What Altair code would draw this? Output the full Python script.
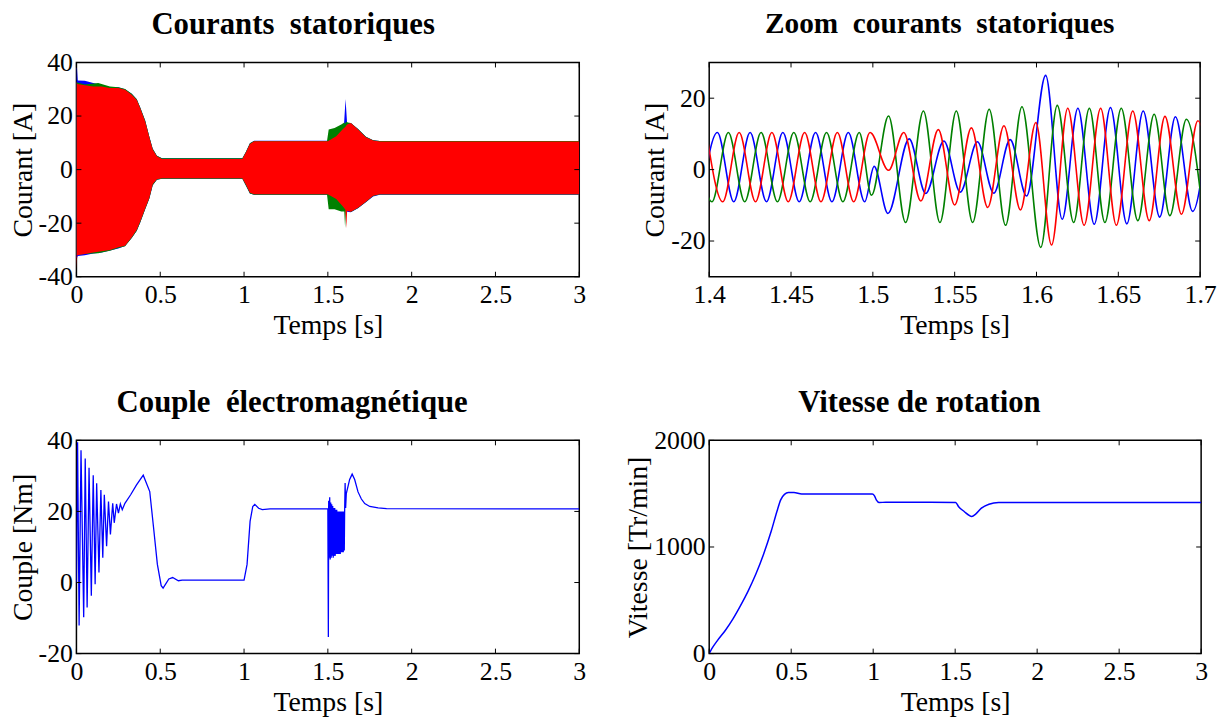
import altair as alt
import pandas as pd

FONT = "Liberation Serif"
BLUE, GREEN, RED = "#0000ff", "#008000", "#ff0000"
SP2 = "\u00a0\u00a0"

# ---------- Panel 1 : stator currents, envelopes of the dense oscillation ----------
red_t = [0, 0.005, 0.05, 0.1, 0.15, 0.2, 0.25, 0.29, 0.33, 0.36, 0.38, 0.41, 0.435, 0.455, 0.48, 0.51,
         0.99, 1.01, 1.035, 1.06, 1.5, 1.55, 1.59, 1.605, 1.61, 1.615, 1.637, 1.68, 1.727, 1.77, 1.81, 3.0]
red_hi = [33, 32, 31.5, 31, 31, 30.5, 30.5, 29.8, 28, 26, 23, 18, 12, 7.5, 5, 4,
          4, 6.3, 9.6, 10.6, 10.6, 12.5, 15.2, 16, 16.5, 16.8, 17.4, 15, 12.1, 10.9, 10.5, 10.5]
red_lo = [-37, -32, -31.5, -31, -30.5, -30, -29, -28.4, -25.3, -22.5, -19.5, -14.5, -10.5, -5.5, -3.6, -3.2,
          -3.2, -5.5, -8.6, -9.2, -9.2, -11, -13.8, -15, -21.9, -15.5, -15.7, -14.2, -12, -9.8, -9.2, -9.2]

green_t = [0, 0.005, 0.05, 0.13, 0.2, 0.25, 0.29, 0.33, 0.36, 0.38, 0.41, 0.435, 0.455, 0.48, 0.51,
           0.99, 1.01, 1.035, 1.06, 1.495, 1.505, 1.54, 1.58, 1.598, 1.603, 1.608, 1.62, 1.637, 1.68,
           1.727, 1.77, 1.81, 3.0]
green_hi = [32.5, 32.5, 31.8, 32.3, 31, 30.8, 30.1, 28.3, 26.3, 23.3, 18.3, 12.3, 7.8, 5.2, 4.2,
            4.2, 6.5, 9.8, 10.7, 10.7, 15, 15.5, 16.8, 17.6, 17, 18, 17.6, 17.4, 15.2,
            12.3, 11, 10.7, 10.7]
green_lo = [-31.8, -31.8, -31.5, -31.2, -30.3, -29.3, -28.6, -25.5, -22.8, -19.8, -14.8, -10.8, -5.8, -3.8, -3.4,
            -3.4, -5.8, -8.9, -9.4, -9.4, -14.8, -14.8, -15.6, -15.6, -21.8, -15, -14.8, -15.8, -14.3,
            -12.1, -9.9, -9.3, -9.3]

blue_t = [0, 0.003, 0.008, 0.05, 0.1, 0.15, 0.2, 0.25, 0.29, 0.33, 0.36, 0.38, 0.41, 0.435, 0.455, 0.48,
          0.51, 0.99, 1.01, 1.035, 1.06, 1.5, 1.55, 1.595, 1.6056, 1.615, 1.637, 1.68, 1.727, 1.77, 1.81, 3.0]
blue_hi = [38, 38, 33.3, 33.2, 32.3, 31.5, 30.8, 30.8, 30, 28.3, 26.3, 23.3, 18.3, 12.3, 7.8, 5.2,
           4.2, 4.2, 6.5, 9.8, 10.8, 10.8, 12.7, 15.4, 26.4, 17, 17.4, 15.2, 12.3, 11, 10.7, 10.7]
blue_lo = [-33, -33, -32.3, -32, -31.3, -31, -30.2, -29.5, -28.5, -25.5, -22.8, -19.8, -14.8, -10.8, -5.8, -3.8,
           -3.4, -3.4, -5.8, -8.9, -9.4, -9.4, -11.2, -14, -14, -15.7, -15.9, -14.4, -12.2, -10, -9.4, -9.4]

# ---------- Panel 2 : zoom of the currents (peaks and troughs) ----------
zb_t = [1.395, 1.405, 1.415, 1.425, 1.435, 1.445, 1.455, 1.465, 1.475, 1.485, 1.495, 1.5008, 1.5092,
        1.5222, 1.5323, 1.5434, 1.5534, 1.5639, 1.5739, 1.5839, 1.594, 1.6056, 1.6157, 1.6253, 1.6353,
        1.6452, 1.6552, 1.6652, 1.6753, 1.6849, 1.6954, 1.705]
zb_v = [-9, 10.4, -9, 10.4, -9, 10.4, -9, 10.4, -9, 10.4, -9, 0.9, -12.3,
        8.6, -6.7, 8.0, -6.3, 7.8, -6.6, 8.4, -7.4, 26.4, -13.9, 17.2, -15.3,
        17.4, -15.2, 16.4, -13.3, 14.8, -11.7, 13.5]

zg_t = [1.3917, 1.4017, 1.4117, 1.4217, 1.4317, 1.4417, 1.4517, 1.4617, 1.4717, 1.4817, 1.4917, 1.4992,
        1.5096, 1.52, 1.5309, 1.541, 1.551, 1.561, 1.5711, 1.5811, 1.5911, 1.6026, 1.6127, 1.6227,
        1.6323, 1.6418, 1.6518, 1.6619, 1.6719, 1.6815, 1.6916, 1.7015]
zg_v = [10.4, -9, 10.4, -9, 10.4, -9, 10.4, -9, 10.4, -9, 10.4, -7.2,
        15.0, -14.8, 16.4, -14.8, 16.4, -14.8, 16.9, -15.6, 17.6, -21.8, 18.0, -14.8,
        17.2, -14.8, 17.2, -14.3, 15.5, -12.9, 14.1, -11.5]

zr_t = [1.3983, 1.4083, 1.4183, 1.4283, 1.4383, 1.4483, 1.4583, 1.4683, 1.4783, 1.4883, 1.4983, 1.5096,
        1.5189, 1.5293, 1.54, 1.55, 1.5602, 1.5702, 1.5801, 1.5902, 1.5996, 1.6092, 1.6191, 1.6291,
        1.6392, 1.6488, 1.6588, 1.6689, 1.6785, 1.6886, 1.6986, 1.709]
zr_v = [10.4, -9, 10.4, -9, 10.4, -9, 10.4, -9, 10.4, -9, 10.4, -0.2,
        10.4, -8.8, 11.2, -9.9, 11.7, -10.6, 12.3, -11.3, 13.2, -21.1, 17.2, -15.6,
        17.2, -15.6, 16.4, -14.3, 14.9, -12.5, 13.7, -12.0]

# ---------- Panel 3 : electromagnetic torque ----------
tq_t = [0, 0.0068, 0.016, 0.0273, 0.0433, 0.0524, 0.0638, 0.0752, 0.0888, 0.1002, 0.1116, 0.1207,
        0.1344, 0.1458, 0.1572, 0.1663, 0.18, 0.1913, 0.2027, 0.2164, 0.2255, 0.2392, 0.2506, 0.262,
        0.2734, 0.2893, 0.3235, 0.3576, 0.3986, 0.4374, 0.4602, 0.4829, 0.5057, 0.5171, 0.5513, 0.574,
        0.6082, 0.631, 1.0, 1.018, 1.036, 1.052, 1.064, 1.087, 1.109, 1.155, 1.497,
        1.5, 1.501, 1.503, 1.505, 1.508, 1.511, 1.514, 1.517, 1.52, 1.523, 1.526, 1.529, 1.532, 1.535,
        1.538, 1.541, 1.544, 1.547, 1.55, 1.553, 1.556, 1.559, 1.562, 1.565, 1.568, 1.571, 1.574, 1.577,
        1.58, 1.583, 1.586, 1.589, 1.592, 1.595, 1.598, 1.6, 1.603, 1.606, 1.61, 1.62, 1.63, 1.645,
        1.66, 1.68, 1.7, 1.72, 1.75, 1.8, 1.85, 3.0]
tq_v = [0, 39.5, -12.1, 37.2, -9.8, 34.9, -7.0, 32.3, -3.7, 30.2, -0.5, 27.9,
        2.8, 26.0, 7.0, 24.7, 10.2, 22.8, 13.5, 22.3, 16.8, 22.1, 19.5, 22.1,
        20.5, 22.3, 24.7, 27.4, 30.2, 25.6, 15.4, 5.1, -0.9, -1.6, 1.0, 1.4,
        0.5, 0.7, 0.7, 5.1, 17.2, 21.4, 22.0, 20.9, 20.5, 20.7, 20.7,
        20.7, 8, -15.3, 23, 7, 24, 6.5, 22.5, 7, 22, 7.5, 21.5, 7, 21,
        7.5, 21, 7.5, 20.5, 8, 20.5, 8, 20, 8, 20, 8, 20, 8, 20,
        8.5, 20, 8.5, 20, 8.5, 20, 9, 19.5, 28, 21, 25, 27, 29, 30.5,
        29, 25.5, 23.5, 22.2, 21.4, 21, 20.8, 20.7]

# ---------- Panel 4 : rotation speed ----------
sp_t = [0, 0.016, 0.051, 0.098, 0.145, 0.191, 0.238, 0.284, 0.331, 0.378, 0.413, 0.436, 0.459, 0.483,
        0.517, 0.564, 0.995, 1.007, 1.019, 1.037, 1.077, 1.503, 1.52, 1.555, 1.601, 1.625, 1.66, 1.706,
        1.765, 3.0]
sp_v = [0, 46, 124, 217, 326, 450, 589, 744, 930, 1147, 1333, 1442, 1494, 1510,
        1510, 1497, 1497, 1482, 1442, 1417, 1420, 1418, 1380, 1333, 1287, 1308, 1364, 1401,
        1417, 1417]

# tick values
t_ticks = [0, 0.5, 1, 1.5, 2, 2.5, 3]
z_ticks = [1.4, 1.45, 1.5, 1.55, 1.6, 1.65, 1.7]


def axis(vals, title, orient):
    return alt.Axis(values=vals, title=title, labelExpr="'' + datum.value", domain=False, ticks=False,
                    grid=False, labelFont=FONT, labelFontSize=26, labelColor="black",
                    labelFlush=False, labelOverlap=False, labelPadding=5 if orient == "x" else 4,
                    titleFont=FONT, titleFontSize=28, titleFontWeight="normal", titleColor="black",
                    titlePadding=4 if orient == "x" else 1)


def panel(layers_spec, xd, yd, xt, yt, xtitle, ytitle, w, h, title, tdx, toff, tsize=31):
    xs = alt.Scale(domain=xd, nice=False, zero=False)
    ys = alt.Scale(domain=yd, nice=False, zero=False)
    xa = axis(xt, xtitle, "x")
    ya = axis(yt, ytitle, "y")
    layers = []
    for df, kind, color, sw in layers_spec:
        base = alt.Chart(df)
        if kind == "area":
            m = base.mark_area(color=color, opacity=1, clip=True).encode(
                x=alt.X("t:Q", scale=xs, axis=xa), y=alt.Y("hi:Q", scale=ys, axis=ya), y2="lo:Q")
        else:
            m = base.mark_line(color=color, strokeWidth=sw, clip=True, interpolate=kind).encode(
                x=alt.X("t:Q", scale=xs, axis=xa), y=alt.Y("v:Q", scale=ys, axis=ya))
        layers.append(m)
    L = 5
    dx = (xd[1] - xd[0]) * L / w
    dy = (yd[1] - yd[0]) * L / h
    rows = []
    for v in xt:
        rows.append(dict(a=v, a2=v, b=yd[0], b2=yd[0] + dy))
        rows.append(dict(a=v, a2=v, b=yd[1], b2=yd[1] - dy))
    for v in yt:
        rows.append(dict(a=xd[0], a2=xd[0] + dx, b=v, b2=v))
        rows.append(dict(a=xd[1], a2=xd[1] - dx, b=v, b2=v))
    tk = alt.Chart(pd.DataFrame(rows)).mark_rule(color="black", strokeWidth=1).encode(
        x=alt.X("a:Q", scale=xs, axis=xa), x2="a2:Q", y=alt.Y("b:Q", scale=ys, axis=ya), y2="b2:Q")
    layers.append(tk)
    return alt.layer(*layers).properties(
        width=w, height=h,
        title=alt.TitleParams(title, font=FONT, fontSize=tsize, fontWeight="bold", color="black",
                              anchor="middle", dx=tdx, offset=toff))


p1 = panel([
    (pd.DataFrame({"t": blue_t, "hi": blue_hi, "lo": blue_lo}), "area", BLUE, 1),
    (pd.DataFrame({"t": green_t, "hi": green_hi, "lo": green_lo}), "area", GREEN, 1),
    (pd.DataFrame({"t": red_t, "hi": red_hi, "lo": red_lo}), "area", RED, 1),
], [0, 3], [-40, 40], t_ticks, [-40, -20, 0, 20, 40], "Temps [s]", "Courant [A]", 507, 216,
    "Courants" + SP2 + "statoriques", -35, 9)

p2 = panel([
    (pd.DataFrame({"t": zb_t, "v": zb_v}), "monotone", BLUE, 1.6),
    (pd.DataFrame({"t": zg_t, "v": zg_v}), "monotone", GREEN, 1.6),
    (pd.DataFrame({"t": zr_t, "v": zr_v}), "monotone", RED, 1.6),
], [1.4, 1.7], [-30, 30], z_ticks, [-20, 0, 20], "Temps [s]", "Courant [A]", 495, 216,
    "Zoom" + SP2 + "courants" + SP2 + "statoriques", -15, 23, 29.5)

p3 = panel([
    (pd.DataFrame({"t": tq_t, "v": tq_v}), "linear", BLUE, 1.3),
], [0, 3], [-20, 40], t_ticks, [-20, 0, 20, 40], "Temps [s]", "Couple [Nm]", 507, 215,
    "Couple" + SP2 + "électromagnétique", -36, 9)

p4 = panel([
    (pd.DataFrame({"t": sp_t, "v": sp_v}), "monotone", BLUE, 1.5),
], [0, 3], [0, 2000], t_ticks, [0, 1000, 2000], "Temps [s]", "Vitesse [Tr/min]", 496, 215,
    "Vitesse de rotation", -36, 9, 31)

chart = alt.concat(p1, p2, p3, p4, columns=2, spacing={"row": 165, "column": 131},
                   bounds="flush").properties(
    padding={"left": 0, "top": -3, "right": 0, "bottom": 0}
).configure_view(stroke="black", strokeWidth=1.5)

chart.save("out.html", embed_options={"renderer": "svg", "actions": False})
